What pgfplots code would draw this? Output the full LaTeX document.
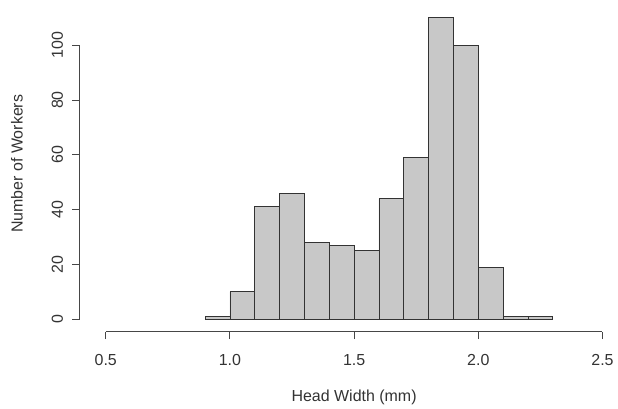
\documentclass[border=0pt]{standalone}
\usepackage{pgfplots}
\pgfplotsset{compat=1.18}
\usepackage{fontspec}
\setmainfont{Liberation Sans}
\definecolor{barfill}{RGB}{200,200,200}
\definecolor{axisgray}{RGB}{70,70,70}

\begin{document}
\begin{tikzpicture}
\begin{axis}[
  at={(0,0)}, anchor=origin,
  scale only axis,
  width=373.5pt, height=206pt,
  xmin=0.5, xmax=2.5, ymin=0, ymax=100,
  clip=false,
  axis x line*=bottom, axis y line*=left,
  axis x line shift=9.5pt,
  axis line style={draw=axisgray, line width=0.7pt},
  y axis line style={opacity=0},
  tick style={draw=axisgray, line width=0.7pt},
  ytick style={opacity=0},
  tick align=outside, major tick length=5.5pt,
  xtick={0.5,1.0,...,2.5}, ytick={0,20,...,100},
  xticklabel style={/pgf/number format/fixed, /pgf/number format/fixed zerofill,
                    /pgf/number format/precision=1, yshift=-8pt},
  ticklabel style={font=\fontsize{12}{14}\selectfont, text=black!80},
  /pgf/number format/assume math mode=true,
  yticklabel shift=23pt,
  yticklabel style={rotate=90, anchor=south},
]
\addplot[ybar interval, fill=barfill, draw=black!80, line width=0.6pt]
  coordinates {(0.9,1) (1.0,10) (1.1,41) (1.2,46) (1.3,28) (1.4,27) (1.5,25)
               (1.6,44) (1.7,59) (1.8,110) (1.9,100) (2.0,19) (2.1,1) (2.2,1) (2.3,1)};
% R-style detached y axis
\draw[axisgray, line width=0.7pt] ([xshift=-19.5pt]axis cs:0.5,0) -- ([xshift=-19.5pt]axis cs:0.5,100);
\pgfplotsinvokeforeach{0,20,40,60,80,100}{
  \draw[axisgray, line width=0.7pt] ([xshift=-19.5pt]axis cs:0.5,#1) -- ([xshift=-25pt]axis cs:0.5,#1);
}
\node[font=\fontsize{12}{14}\selectfont, text=black!80, rotate=90, anchor=center]
  at ([xshift=-66.75pt]rel axis cs:0,0.567) {Number of Workers};
\node[font=\fontsize{12}{14}\selectfont, text=black!80, anchor=center]
  at ([yshift=-58.5pt]rel axis cs:0.5,0) {Head Width (mm)};
\end{axis}
\useasboundingbox (-79.5pt,-66pt) rectangle (384pt,240pt);
\end{tikzpicture}
\end{document}
